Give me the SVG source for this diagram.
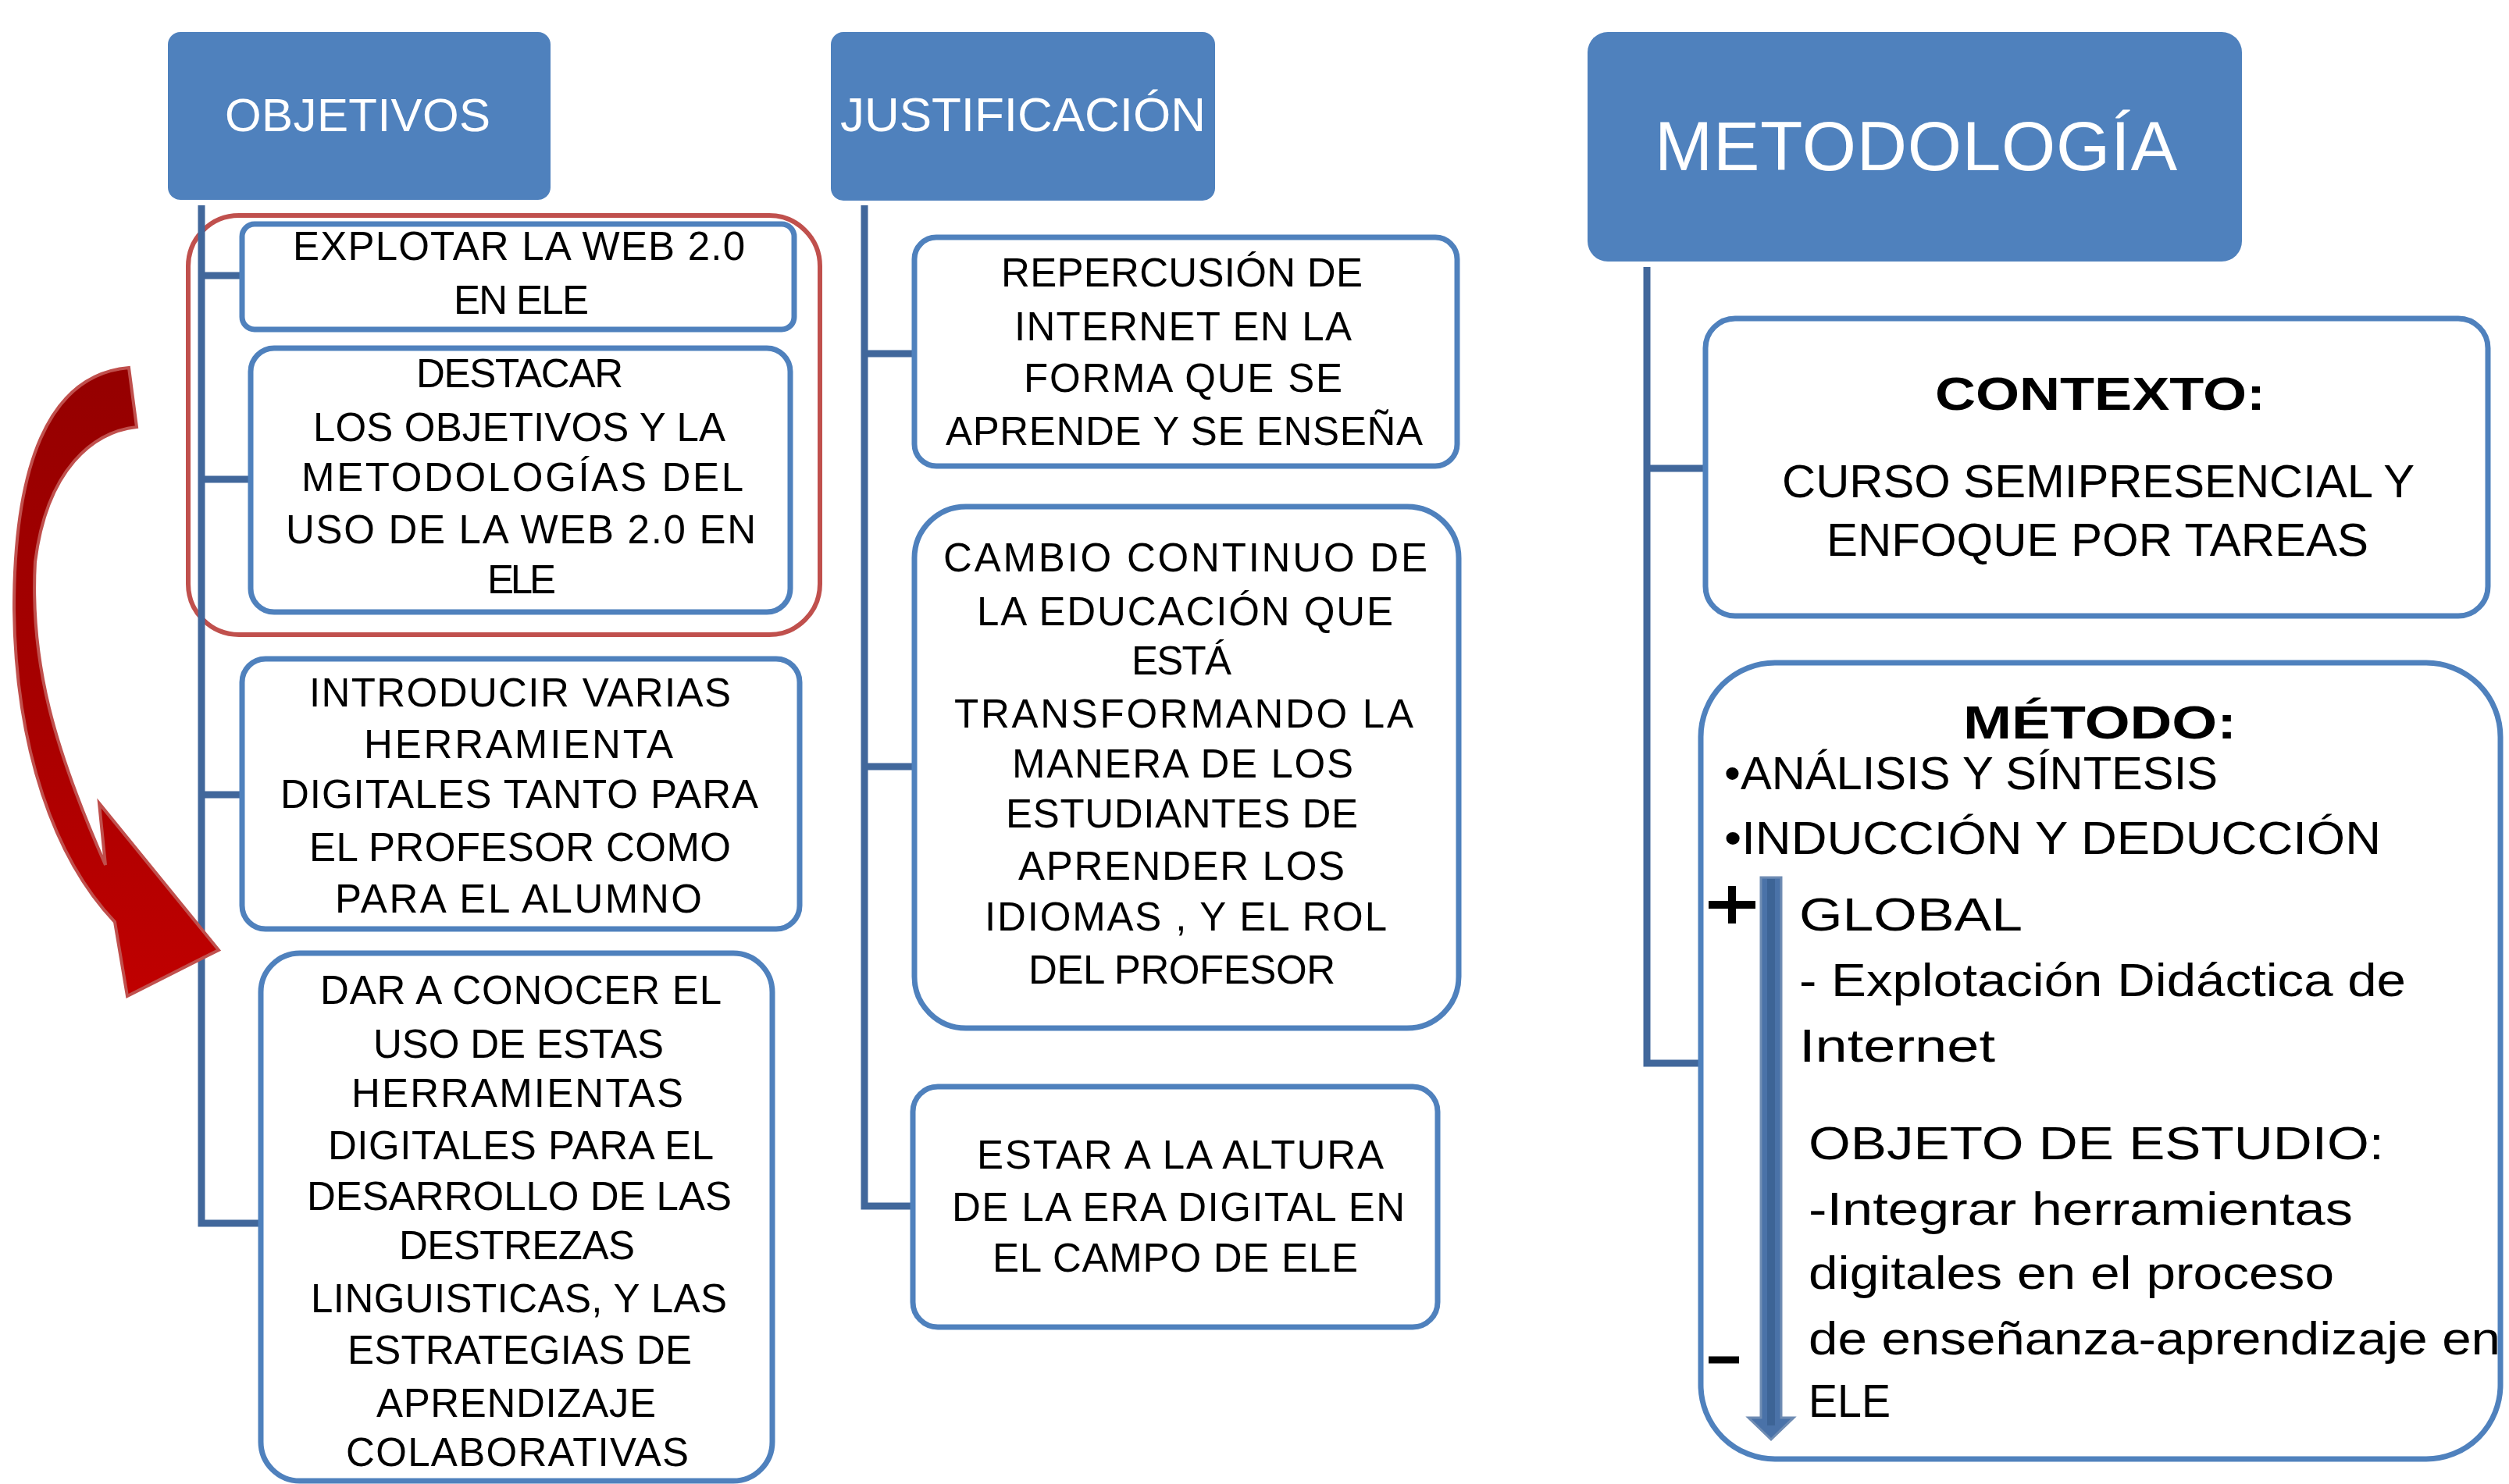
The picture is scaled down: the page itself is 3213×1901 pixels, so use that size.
<svg xmlns="http://www.w3.org/2000/svg" width="3213" height="1901" viewBox="0 0 3213 1901">
<defs>
<linearGradient id="redg" x1="0" y1="0" x2="0" y2="1">
<stop offset="0" stop-color="#950000"/>
<stop offset="0.55" stop-color="#a80000"/>
<stop offset="1" stop-color="#c00000"/>
</linearGradient>
<style>
.hdr{fill:#4F81BD;}
.box{fill:#fff;stroke:#4F81BD;stroke-width:7;}
.con{fill:none;stroke:#41679B;stroke-width:9;}
.t{font-family:"Liberation Sans",Arial,sans-serif;font-size:51px;fill:#000;}
.w{font-family:"Liberation Sans",Arial,sans-serif;fill:#fff;}
.r{font-family:"Liberation Sans",Arial,sans-serif;font-size:60px;fill:#000;}
.b{font-weight:bold;}
</style>
</defs>
<rect width="3213" height="1901" fill="#fff"/>

<!-- red highlight -->
<rect id="highlight" x="241" y="276" width="809" height="537" rx="65" fill="none" stroke="#C0504D" stroke-width="6"/>

<g id="connectors">
<path class="con" d="M258,263 V1567 H332 M258,353 H310 M258,614 H321 M258,1018 H310"/>
<path class="con" d="M1107,263 V1545 H1169 M1107,453 H1171 M1107,982 H1171"/>
<path class="con" d="M2109,342 V1362 H2176 M2109,600 H2184"/>
</g>

<g id="curved-arrow">
<path d="M165,471 L175,547 C120,553 60,600 45,720 C38,850 70,960 135,1108 L127,1029 L280,1217 L163,1276 L147,1181 C70,1100 20,960 18,780 C18,600 60,480 165,471 Z" fill="url(#redg)" stroke="#C0504D" stroke-width="4" stroke-linejoin="miter"/>
</g>

<g id="objetivos">
<rect class="hdr" x="215" y="41" width="490" height="215" rx="16"/>
<text class="w" x="288" y="168" font-size="60" textLength="340">OBJETIVOS</text>
</g>

<g id="explotar">
<rect class="box" x="310" y="287" width="707" height="135" rx="16"/>
<text class="t" x="375" y="333" textLength="579">EXPLOTAR LA WEB 2.0</text>
<text class="t" x="581" y="402" textLength="173">EN ELE</text>
</g>

<g id="destacar">
<rect class="box" x="321" y="446" width="691" height="338" rx="30"/>
<text class="t" x="533" y="496" textLength="265">DESTACAR</text>
<text class="t" x="401" y="565" textLength="528">LOS OBJETIVOS Y LA</text>
<text class="t" x="386" y="629" textLength="566">METODOLOGÍAS  DEL</text>
<text class="t" x="366" y="696" textLength="602">USO DE LA WEB 2.0 EN</text>
<text class="t" x="624" y="760" textLength="88">ELE</text>
</g>

<g id="introducir">
<rect class="box" x="310" y="844" width="714" height="346" rx="30"/>
<text class="t" x="396" y="905" textLength="540">INTRODUCIR VARIAS</text>
<text class="t" x="466" y="971" textLength="396">HERRAMIENTA</text>
<text class="t" x="359" y="1035" textLength="612">DIGITALES TANTO PARA</text>
<text class="t" x="396" y="1103" textLength="540">EL PROFESOR COMO</text>
<text class="t" x="429" y="1169" textLength="470">PARA EL ALUMNO</text>
</g>

<g id="dar-a-conocer">
<rect class="box" x="334" y="1221" width="655" height="676" rx="50"/>
<text class="t" x="410" y="1286" textLength="514">DAR A CONOCER  EL</text>
<text class="t" x="478" y="1355" textLength="372">USO DE ESTAS</text>
<text class="t" x="450" y="1418" textLength="425">HERRAMIENTAS</text>
<text class="t" x="420" y="1485" textLength="494">DIGITALES PARA EL</text>
<text class="t" x="393" y="1550" textLength="544">DESARROLLO DE LAS</text>
<text class="t" x="511" y="1613" textLength="302">DESTREZAS</text>
<text class="t" x="398" y="1681" textLength="533">LINGUISTICAS, Y LAS</text>
<text class="t" x="445" y="1747" textLength="441">ESTRATEGIAS DE</text>
<text class="t" x="482" y="1815" textLength="358">APRENDIZAJE</text>
<text class="t" x="443" y="1878" textLength="439">COLABORATIVAS</text>
</g>

<g id="justificacion">
<rect class="hdr" x="1064" y="41" width="492" height="216" rx="16"/>
<text class="w" x="1076" y="168" font-size="62" textLength="468">JUSTIFICACIÓN</text>
</g>

<g id="repercusion">
<rect class="box" x="1171" y="304" width="695" height="293" rx="28"/>
<text class="t" x="1282" y="367" textLength="463">REPERCUSIÓN DE</text>
<text class="t" x="1299" y="436" textLength="432">INTERNET EN LA</text>
<text class="t" x="1311" y="502" textLength="408">FORMA QUE SE</text>
<text class="t" x="1211" y="570" textLength="611">APRENDE Y SE ENSEÑA</text>
</g>

<g id="cambio">
<rect class="box" x="1171" y="649" width="697" height="668" rx="66"/>
<text class="t" x="1208" y="732" textLength="620">CAMBIO CONTINUO DE</text>
<text class="t" x="1251" y="801" textLength="533">LA EDUCACIÓN  QUE</text>
<text class="t" x="1449" y="864" textLength="128">ESTÁ</text>
<text class="t" x="1222" y="932" textLength="588">TRANSFORMANDO LA</text>
<text class="t" x="1296" y="996" textLength="437">MANERA DE LOS</text>
<text class="t" x="1288" y="1060" textLength="451">ESTUDIANTES DE</text>
<text class="t" x="1304" y="1127" textLength="418">APRENDER  LOS</text>
<text class="t" x="1261" y="1192" textLength="515">IDIOMAS , Y EL ROL</text>
<text class="t" x="1317" y="1260" textLength="393">DEL PROFESOR</text>
</g>

<g id="estar">
<rect class="box" x="1169" y="1392" width="672" height="308" rx="32"/>
<text class="t" x="1251" y="1497" textLength="521">ESTAR A LA ALTURA</text>
<text class="t" x="1219" y="1564" textLength="580">DE LA ERA DIGITAL EN</text>
<text class="t" x="1271" y="1629" textLength="468">EL CAMPO  DE ELE</text>
</g>

<g id="metodologia">
<rect class="hdr" x="2033" y="41" width="838" height="294" rx="26"/>
<text class="w" x="2119" y="218" font-size="89" textLength="669">METODOLOGÍA</text>
</g>

<g id="contexto">
<rect class="box" x="2184" y="408" width="1002" height="381" rx="38"/>
<text class="r b" x="2478" y="525" font-size="66" textLength="423" lengthAdjust="spacingAndGlyphs">CONTEXTO:</text>
<text class="r" x="2282" y="637" textLength="810" lengthAdjust="spacingAndGlyphs">CURSO SEMIPRESENCIAL Y</text>
<text class="r" x="2339" y="712" textLength="694" lengthAdjust="spacingAndGlyphs">ENFOQUE POR TAREAS</text>
</g>

<g id="metodo">
<rect class="box" x="2178" y="849" width="1024" height="1020" rx="95"/>
<text class="r b" x="2514" y="946" font-size="64" textLength="350" lengthAdjust="spacingAndGlyphs">MÉTODO:</text>
<text class="r" x="2208" y="1011" font-size="59" textLength="632" lengthAdjust="spacingAndGlyphs">•ANÁLISIS Y SÍNTESIS</text>
<text class="r" x="2208" y="1094" font-size="59" textLength="841" lengthAdjust="spacingAndGlyphs">•INDUCCIÓN Y DEDUCCIÓN</text>
<path d="M2188,1159 H2248 M2218,1135 V1183" stroke="#000" stroke-width="10" fill="none"/>
<path d="M2188,1742 H2227" stroke="#000" stroke-width="9" fill="none"/>
<path d="M2255,1124 H2281 V1816 H2297 L2268,1844 L2239,1816 H2255 Z" fill="#4A72A8" stroke="#6F8CB3" stroke-width="3"/>
<rect x="2263" y="1126" width="10" height="700" fill="#3D6496"/>
<text class="r" x="2304" y="1192" font-size="66" textLength="286" lengthAdjust="spacingAndGlyphs">GLOBAL</text>
<text class="r" x="2304" y="1276" font-size="63" textLength="777" lengthAdjust="spacingAndGlyphs">- Explotación  Didáctica de</text>
<text class="r" x="2304" y="1360" font-size="63" textLength="251" lengthAdjust="spacingAndGlyphs">Internet</text>
<text class="r" x="2316" y="1485" font-size="63" textLength="737" lengthAdjust="spacingAndGlyphs">OBJETO DE ESTUDIO:</text>
<text class="r" x="2316" y="1569" font-size="63" textLength="697" lengthAdjust="spacingAndGlyphs">-Integrar herramientas</text>
<text class="r" x="2316" y="1651" font-size="63" textLength="673" lengthAdjust="spacingAndGlyphs">digitales en el proceso</text>
<text class="r" x="2316" y="1735" font-size="63" textLength="886" lengthAdjust="spacingAndGlyphs">de enseñanza-aprendizaje en</text>
<text class="r" x="2316" y="1815" font-size="63" textLength="105" lengthAdjust="spacingAndGlyphs">ELE</text>
</g>
</svg>
